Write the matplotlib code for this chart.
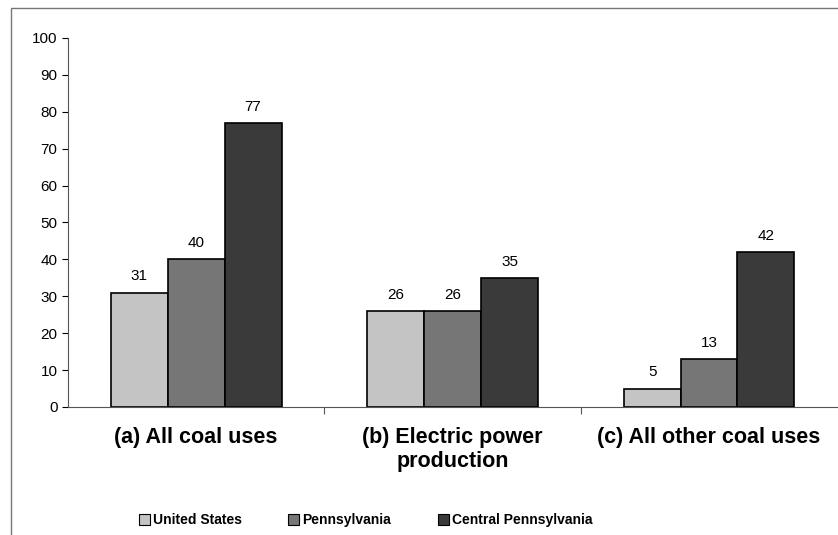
import matplotlib.pyplot as plt
import numpy as np
from matplotlib.patches import Rectangle

plt.rcParams['font.family'] = ['Liberation Sans', 'DejaVu Sans']

categories = ['(a) All coal uses', '(b) Electric power\nproduction', '(c) All other coal uses']
series = ['United States', 'Pennsylvania', 'Central Pennsylvania']
united_states = [31, 26, 5]
pennsylvania = [40, 26, 13]
central_pa = [77, 35, 42]
colors = ['#c4c4c4', '#767676', '#3a3a3a']

fig = plt.figure(figsize=(8.38, 5.35), dpi=100)
ax = fig.add_axes([0.0811, 0.2393, 0.918, 0.6897])

x = np.arange(len(categories))
w = 0.222
for i, (vals, col) in enumerate(zip([united_states, pennsylvania, central_pa], colors)):
    pos = x + (i - 1) * w
    bars = ax.bar(pos, vals, w, color=col, edgecolor='black', linewidth=1.2)
    for b, v in zip(bars, vals):
        ax.text(b.get_x() + b.get_width() / 2, v + 2.5, str(v),
                ha='center', va='bottom', fontsize=11)

ax.set_xlim(-0.5, 2.5)
ax.set_ylim(0, 100)
ax.set_yticks(range(0, 101, 10))
ax.tick_params(axis='y', labelsize=11, length=4, direction='out')
ax.set_xticks([0.5, 1.5])
ax.set_xticklabels([])
ax.tick_params(axis='x', length=5, direction='out', color='#555555')
for s in ['top', 'right']:
    ax.spines[s].set_visible(False)
ax.spines['left'].set_color('#555555')
ax.spines['bottom'].set_color('#555555')

for xi, lab in zip(x, categories):
    ax.text(xi, -5.5, lab, ha='center', va='top', fontsize=15.5,
            fontweight='bold', transform=ax.transData, linespacing=1.15)

# legend entries placed manually across the bottom
leg_x = [0.166, 0.344, 0.523]
for lx, name, col in zip(leg_x, series, colors):
    fig.patches.append(Rectangle((lx, 0.0195), 0.0125, 0.019, transform=fig.transFigure,
                                 facecolor=col, edgecolor='black', linewidth=0.8))
    fig.text(lx + 0.016, 0.028, name, ha='left', va='center', fontsize=10,
             fontweight='bold')

# outer border
fig.patches.append(Rectangle((0.013, -0.01), 1.0, 0.995, transform=fig.transFigure,
                             fill=False, edgecolor='#777777', linewidth=1))

fig.savefig('out.png', dpi=100)
